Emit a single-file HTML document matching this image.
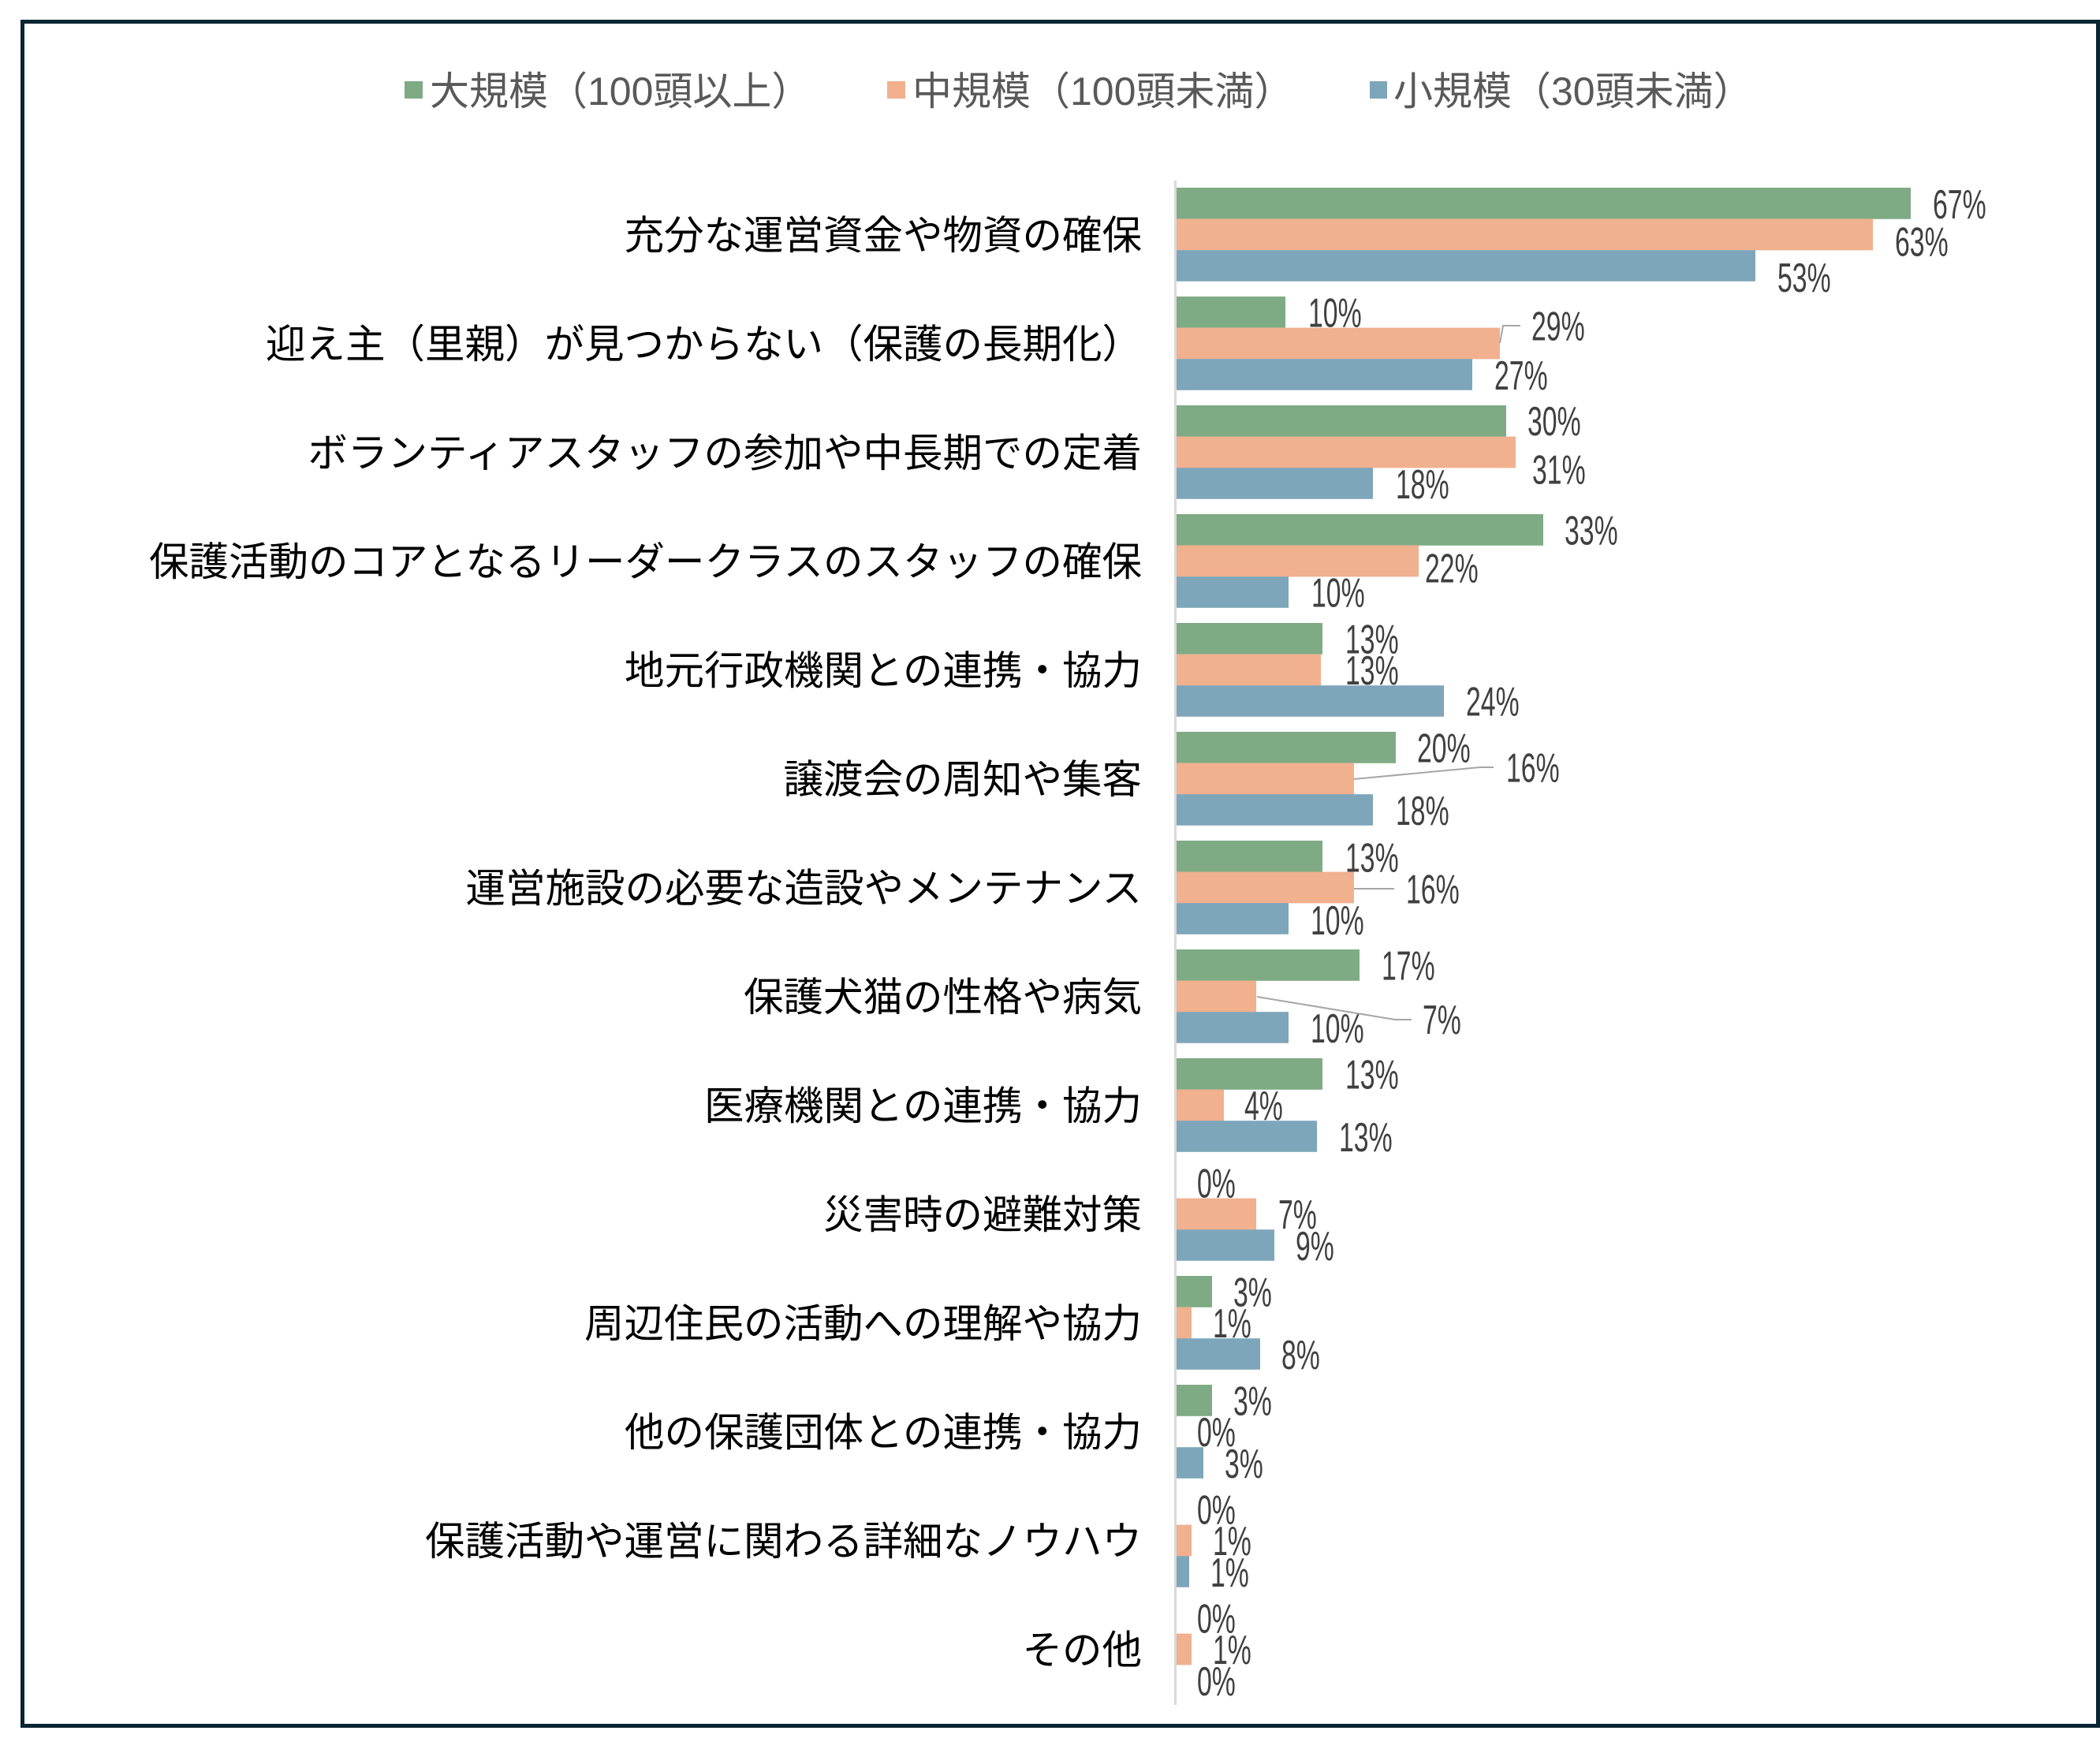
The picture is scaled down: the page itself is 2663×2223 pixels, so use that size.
<!DOCTYPE html>
<html>
<head>
<meta charset="utf-8">
<style>
html,body{margin:0;padding:0;background:#fff;}
svg{display:block;}
.cat{font-family:"Liberation Sans","Noto Sans CJK JP",sans-serif;font-size:50.5px;fill:#000;}
.leg{font-family:"Liberation Sans","Noto Sans CJK JP",sans-serif;font-size:50px;fill:#595959;}
.v{font-family:"Liberation Sans",sans-serif;font-size:52px;fill:#404040;}
</style>
</head>
<body>
<svg width="2663" height="2223" viewBox="0 0 2663 2223" xmlns="http://www.w3.org/2000/svg">
<rect x="0" y="0" width="2663" height="2223" fill="#fff"/>
<rect x="28.5" y="27.5" width="2632" height="2161" fill="none" stroke="#0b2532" stroke-width="5"/>

<!-- Legend -->
<rect x="513" y="103" width="23" height="22" fill="#7fab84"/>
<text class="leg" x="545" y="133">大規模（100頭以上）</text>
<rect x="1125" y="103" width="23" height="22" fill="#f1b08e"/>
<text class="leg" x="1157" y="133">中規模（100頭未満）</text>
<rect x="1737" y="103" width="22" height="22" fill="#7ea6ba"/>
<text class="leg" x="1767" y="133">小規模（30頭未満）</text>

<!-- Category labels -->
<g class="cat" text-anchor="end">
<text x="1448" y="316">充分な運営資金や物資の確保</text>
<text x="1448" y="454">迎え主（里親）が見つからない（保護の長期化）</text>
<text x="1448" y="592">ボランティアスタッフの参加や中長期での定着</text>
<text x="1448" y="730">保護活動のコアとなるリーダークラスのスタッフの確保</text>
<text x="1448" y="868">地元行政機関との連携・協力</text>
<text x="1448" y="1006">譲渡会の周知や集客</text>
<text x="1448" y="1144">運営施設の必要な造設やメンテナンス</text>
<text x="1448" y="1282">保護犬猫の性格や病気</text>
<text x="1448" y="1420">医療機関との連携・協力</text>
<text x="1448" y="1558">災害時の避難対策</text>
<text x="1448" y="1696">周辺住民の活動への理解や協力</text>
<text x="1448" y="1834">他の保護団体との連携・協力</text>
<text x="1448" y="1972">保護活動や運営に関わる詳細なノウハウ</text>
<text x="1448" y="2110">その他</text>
</g>

<!-- Bars: green -->
<g fill="#7fab84">
<rect x="1492" y="238" width="931" height="39.8"/>
<rect x="1492" y="376" width="138" height="39.8"/>
<rect x="1492" y="514" width="418" height="39.8"/>
<rect x="1492" y="652" width="465" height="39.8"/>
<rect x="1492" y="790" width="185" height="39.8"/>
<rect x="1492" y="928" width="278" height="39.8"/>
<rect x="1492" y="1066" width="185" height="39.8"/>
<rect x="1492" y="1204" width="232" height="39.8"/>
<rect x="1492" y="1342" width="185" height="39.8"/>
<rect x="1492" y="1618" width="45" height="39.8"/>
<rect x="1492" y="1756" width="45" height="39.8"/>
</g>
<!-- Bars: orange -->
<g fill="#f1b08e">
<rect x="1492" y="277.6" width="883" height="39.8"/>
<rect x="1492" y="415.6" width="410" height="39.8"/>
<rect x="1492" y="553.6" width="430" height="39.8"/>
<rect x="1492" y="691.6" width="307" height="39.8"/>
<rect x="1492" y="829.6" width="183" height="39.8"/>
<rect x="1492" y="967.6" width="225" height="39.8"/>
<rect x="1492" y="1105.6" width="225" height="39.8"/>
<rect x="1492" y="1243.6" width="101" height="39.8"/>
<rect x="1492" y="1381.6" width="60" height="39.8"/>
<rect x="1492" y="1519.6" width="101" height="39.8"/>
<rect x="1492" y="1657.6" width="19" height="39.8"/>
<rect x="1492" y="1933.6" width="19" height="39.8"/>
<rect x="1492" y="2071.6" width="19" height="39.8"/>
</g>
<!-- Bars: blue -->
<g fill="#7ea6ba">
<rect x="1492" y="317.2" width="734" height="39.6"/>
<rect x="1492" y="455.2" width="375" height="39.6"/>
<rect x="1492" y="593.2" width="249" height="39.6"/>
<rect x="1492" y="731.2" width="142" height="39.6"/>
<rect x="1492" y="869.2" width="339" height="39.6"/>
<rect x="1492" y="1007.2" width="249" height="39.6"/>
<rect x="1492" y="1145.2" width="142" height="39.6"/>
<rect x="1492" y="1283.2" width="142" height="39.6"/>
<rect x="1492" y="1421.2" width="178" height="39.6"/>
<rect x="1492" y="1559.2" width="124" height="39.6"/>
<rect x="1492" y="1697.2" width="106" height="39.6"/>
<rect x="1492" y="1835.2" width="34" height="39.6"/>
<rect x="1492" y="1973.2" width="16" height="39.6"/>
</g>

<!-- Axis -->
<rect x="1489" y="229" width="3" height="1933" fill="#d9d9d9"/>

<!-- Leader lines -->
<g fill="none" stroke="#a6a6a6" stroke-width="2">
<polyline points="1902,435 1906,413 1928,413"/>
<polyline points="1717,988 1877,973 1894,973"/>
<polyline points="1717,1127 1768,1127"/>
<polyline points="1594,1264 1769,1293 1790,1293"/>
</g>

<!-- Value labels -->
<g class="v">
<!-- g1 -->
<text transform="translate(2451,277) scale(0.65,1)">67%</text>
<text transform="translate(2403,324.5) scale(0.65,1)">63%</text>
<text transform="translate(2254,370) scale(0.65,1)">53%</text>
<!-- g2 -->
<text transform="translate(1659,414.5) scale(0.65,1)">10%</text>
<text transform="translate(1942,431.5) scale(0.65,1)">29%</text>
<text transform="translate(1895,494) scale(0.65,1)">27%</text>
<!-- g3 -->
<text transform="translate(1937,552) scale(0.65,1)">30%</text>
<text transform="translate(1943,613.5) scale(0.65,1)">31%</text>
<text transform="translate(1770,632) scale(0.65,1)">18%</text>
<!-- g4 -->
<text transform="translate(1984,690.5) scale(0.65,1)">33%</text>
<text transform="translate(1807,738.5) scale(0.65,1)">22%</text>
<text transform="translate(1663,769.5) scale(0.65,1)">10%</text>
<!-- g5 -->
<text transform="translate(1706,828.5) scale(0.65,1)">13%</text>
<text transform="translate(1706,868) scale(0.65,1)">13%</text>
<text transform="translate(1859,907.5) scale(0.65,1)">24%</text>
<!-- g6 -->
<text transform="translate(1797,966.5) scale(0.65,1)">20%</text>
<text transform="translate(1910,991.5) scale(0.65,1)">16%</text>
<text transform="translate(1770,1046) scale(0.65,1)">18%</text>
<!-- g7 -->
<text transform="translate(1706,1105.5) scale(0.65,1)">13%</text>
<text transform="translate(1783,1145.5) scale(0.65,1)">16%</text>
<text transform="translate(1662,1185) scale(0.65,1)">10%</text>
<!-- g8 -->
<text transform="translate(1752,1242.5) scale(0.65,1)">17%</text>
<text transform="translate(1804,1311) scale(0.65,1)">7%</text>
<text transform="translate(1662,1322) scale(0.65,1)">10%</text>
<!-- g9 -->
<text transform="translate(1706,1380.5) scale(0.65,1)">13%</text>
<text transform="translate(1578,1420) scale(0.65,1)">4%</text>
<text transform="translate(1698,1460) scale(0.65,1)">13%</text>
<!-- g10 -->
<text transform="translate(1518,1518.5) scale(0.65,1)">0%</text>
<text transform="translate(1621,1558) scale(0.65,1)">7%</text>
<text transform="translate(1643,1598) scale(0.65,1)">9%</text>
<!-- g11 -->
<text transform="translate(1564,1656.5) scale(0.65,1)">3%</text>
<text transform="translate(1538,1696) scale(0.65,1)">1%</text>
<text transform="translate(1625,1736) scale(0.65,1)">8%</text>
<!-- g12 -->
<text transform="translate(1564,1794.5) scale(0.65,1)">3%</text>
<text transform="translate(1518,1834) scale(0.65,1)">0%</text>
<text transform="translate(1553,1874) scale(0.65,1)">3%</text>
<!-- g13 -->
<text transform="translate(1518,1932.5) scale(0.65,1)">0%</text>
<text transform="translate(1538,1972) scale(0.65,1)">1%</text>
<text transform="translate(1535,2012) scale(0.65,1)">1%</text>
<!-- g14 -->
<text transform="translate(1518,2070.5) scale(0.65,1)">0%</text>
<text transform="translate(1538,2110) scale(0.65,1)">1%</text>
<text transform="translate(1518,2150) scale(0.65,1)">0%</text>
</g>
</svg>
</body>
</html>
